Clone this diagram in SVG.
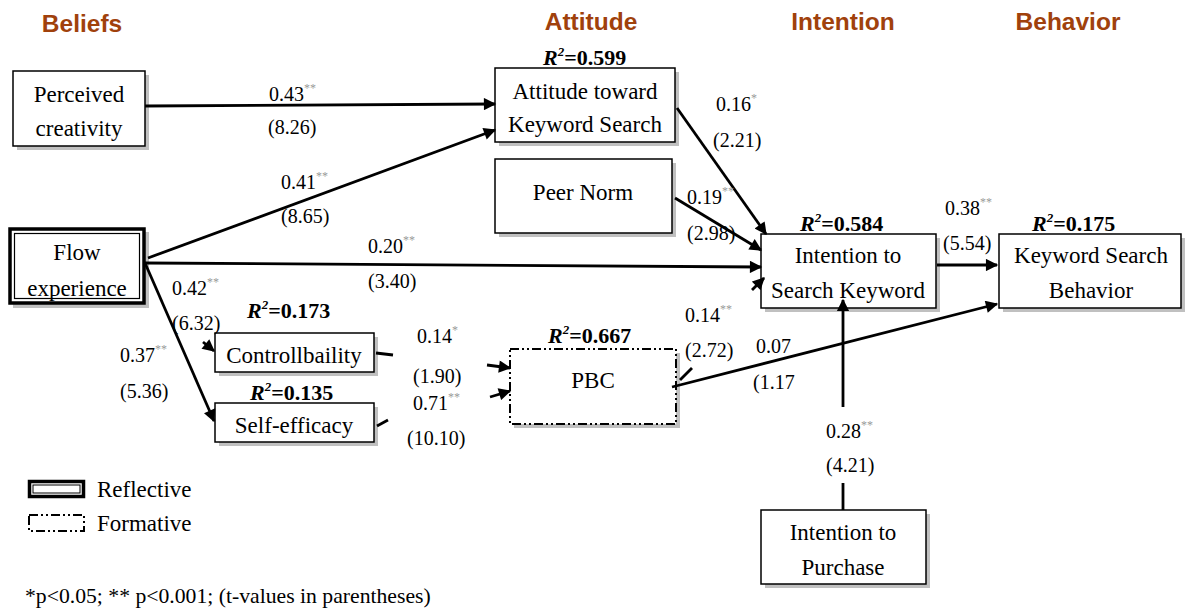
<svg xmlns="http://www.w3.org/2000/svg" width="1185" height="610" viewBox="0 0 1185 610">
<style>
.hd{font-family:"Liberation Sans",Arial,sans-serif;font-weight:bold;font-size:24.5px;fill:#a0410c;text-anchor:middle}
.bx{font-family:"Liberation Serif","Times New Roman",serif;font-size:23px;fill:#000;text-anchor:middle}
.lb{font-family:"Liberation Serif","Times New Roman",serif;font-size:20px;fill:#000}
.sp{font-size:12px;fill:#999}
.r2{font-family:"Liberation Serif","Times New Roman",serif;font-size:22px;font-weight:bold;fill:#000}
.box{fill:#fff;stroke:#000;stroke-width:1.5}
.sh{fill:#c0c0c0}
.fm{fill:#fff;stroke:#000;stroke-width:2;stroke-dasharray:9 3 2 3 2 3}
.ln{stroke:#000;stroke-width:2.8;fill:none}
.ar{stroke:#000;stroke-width:2.8;fill:none;marker-end:url(#ah)}
</style>
<defs>
<marker id="ah" viewBox="0 0 10 10" refX="9" refY="5" markerWidth="5" markerHeight="4.4" orient="auto" markerUnits="strokeWidth">
<path d="M0,0 L10,5 L0,10 z" fill="#000"/>
</marker>
</defs>
<rect width="1185" height="610" fill="#fff"/>

<g id="headers">
<text class="hd" x="82" y="32">Beliefs</text>
<text class="hd" x="591" y="30">Attitude</text>
<text class="hd" x="843" y="30">Intention</text>
<text class="hd" x="1068" y="30">Behavior</text>
</g>

<g id="perceived-creativity">
<rect class="sh" x="17" y="75" width="132" height="75"/>
<rect class="box" x="13" y="71" width="132" height="75"/>
<text class="bx" x="79" y="102">Perceived</text>
<text class="bx" x="79" y="136">creativity</text>
</g>

<g id="flow-experience">
<rect class="sh" x="13" y="232" width="136" height="76"/>
<rect x="10" y="229" width="134" height="74" fill="#fff" stroke="#000" stroke-width="3.5"/>
<rect x="14.5" y="233.5" width="125" height="65" fill="none" stroke="#000" stroke-width="1.2"/>
<text class="bx" x="77" y="260">Flow</text>
<text class="bx" x="77" y="296">experience</text>
</g>

<g id="attitude">
<rect class="sh" x="499" y="72" width="180" height="74"/>
<rect class="box" x="495" y="68" width="180" height="74"/>
<text class="bx" x="585" y="99">Attitude toward</text>
<text class="bx" x="585" y="132">Keyword Search</text>
<text class="r2" x="543" y="65"><tspan font-style="italic">R</tspan><tspan font-style="italic" font-size="13" dy="-9">2</tspan><tspan dy="9">=0.599</tspan></text>
</g>

<g id="peer-norm">
<rect class="sh" x="499" y="163" width="177" height="74"/>
<rect class="box" x="495" y="159" width="177" height="74"/>
<text class="bx" x="583" y="200">Peer Norm</text>
</g>

<g id="intention-search">
<rect class="sh" x="765" y="238" width="175" height="74"/>
<rect class="box" x="761" y="234" width="175" height="74"/>
<text class="bx" x="848" y="263">Intention to</text>
<text class="bx" x="848" y="298">Search Keyword</text>
<text class="r2" x="800" y="231"><tspan font-style="italic">R</tspan><tspan font-style="italic" font-size="13" dy="-9">2</tspan><tspan dy="9">=0.584</tspan></text>
</g>

<g id="keyword-behavior">
<rect class="sh" x="1003" y="238" width="182" height="74"/>
<rect class="box" x="999" y="234" width="182" height="74"/>
<text class="bx" x="1091" y="263">Keyword Search</text>
<text class="bx" x="1091" y="298">Behavior</text>
<text class="r2" x="1032" y="231"><tspan font-style="italic">R</tspan><tspan font-style="italic" font-size="13" dy="-9">2</tspan><tspan dy="9">=0.175</tspan></text>
</g>

<g id="controllability">
<rect class="sh" x="219" y="337" width="159" height="39"/>
<rect class="box" x="215" y="333" width="159" height="39"/>
<text class="bx" x="294" y="363">Controllbaility</text>
<text class="r2" x="247" y="318"><tspan font-style="italic">R</tspan><tspan font-style="italic" font-size="13" dy="-9">2</tspan><tspan dy="9">=0.173</tspan></text>
</g>

<g id="self-efficacy">
<rect class="sh" x="219" y="407" width="159" height="39"/>
<rect class="box" x="215" y="403" width="159" height="39"/>
<text class="bx" x="294" y="433">Self-efficacy</text>
<text class="r2" x="250" y="400"><tspan font-style="italic">R</tspan><tspan font-style="italic" font-size="13" dy="-9">2</tspan><tspan dy="9">=0.135</tspan></text>
</g>

<g id="pbc">
<rect class="sh" x="514" y="353" width="166" height="75"/>
<rect class="fm" x="510" y="349" width="166" height="75"/>
<text class="bx" x="593" y="388">PBC</text>
<text class="r2" x="548" y="343"><tspan font-style="italic">R</tspan><tspan font-style="italic" font-size="13" dy="-9">2</tspan><tspan dy="9">=0.667</tspan></text>
</g>

<g id="intention-purchase">
<rect class="sh" x="765" y="514" width="165" height="74"/>
<rect class="box" x="761" y="510" width="165" height="74"/>
<text class="bx" x="843" y="540">Intention to</text>
<text class="bx" x="843" y="575">Purchase</text>
</g>

<g id="connectors">
<line class="ar" x1="145" y1="106" x2="495" y2="104"/>
<line class="ar" x1="148" y1="258" x2="495" y2="130"/>
<line class="ar" x1="145" y1="263" x2="761" y2="267"/>
<line class="ar" x1="203" y1="342" x2="214" y2="351"/>
<line class="ar" x1="145" y1="263" x2="214" y2="421"/>
<line class="ln" x1="376" y1="353" x2="393" y2="355"/>
<line class="ar" x1="487" y1="365" x2="510" y2="368"/>
<line class="ln" x1="377" y1="426" x2="388" y2="420"/>
<line class="ar" x1="490" y1="397" x2="510" y2="391"/>
<line class="ln" x1="680" y1="380" x2="692" y2="368"/>
<line class="ar" x1="752" y1="290" x2="764" y2="278"/>
<line class="ar" x1="672" y1="387" x2="997" y2="304"/>
<line class="ar" x1="677" y1="108" x2="766" y2="234"/>
<line class="ar" x1="675" y1="198" x2="761" y2="250"/>
<line class="ar" x1="937" y1="265" x2="997" y2="265"/>
<line class="ln" x1="843" y1="510" x2="843" y2="483"/>
<line class="ar" x1="843" y1="407" x2="843" y2="300"/>
</g>

<g id="labels">
<text class="lb" x="269" y="101">0.43<tspan class="sp" dy="-9">**</tspan></text>
<text class="lb" x="268" y="134">(8.26)</text>
<text class="lb" x="281" y="189">0.41<tspan class="sp" dy="-9">**</tspan></text>
<text class="lb" x="281" y="223">(8.65)</text>
<text class="lb" x="368" y="253">0.20<tspan class="sp" dy="-9">**</tspan></text>
<text class="lb" x="368" y="288">(3.40)</text>
<text class="lb" x="172" y="295">0.42<tspan class="sp" dy="-9">**</tspan></text>
<text class="lb" x="172" y="330">(6.32)</text>
<text class="lb" x="120" y="362">0.37<tspan class="sp" dy="-9">**</tspan></text>
<text class="lb" x="120" y="398">(5.36)</text>
<text class="lb" x="417" y="343">0.14<tspan class="sp" dy="-9">*</tspan></text>
<text class="lb" x="413" y="383">(1.90)</text>
<text class="lb" x="413" y="410">0.71<tspan class="sp" dy="-9">**</tspan></text>
<text class="lb" x="407" y="445">(10.10)</text>
<text class="lb" x="716" y="111">0.16<tspan class="sp" dy="-9">*</tspan></text>
<text class="lb" x="713" y="147">(2.21)</text>
<text class="lb" x="687" y="204">0.19<tspan class="sp" dy="-9">**</tspan></text>
<text class="lb" x="687" y="240">(2.98)</text>
<text class="lb" x="945" y="215">0.38<tspan class="sp" dy="-9">**</tspan></text>
<text class="lb" x="943" y="250">(5.54)</text>
<text class="lb" x="685" y="322">0.14<tspan class="sp" dy="-9">**</tspan></text>
<text class="lb" x="685" y="357">(2.72)</text>
<text class="lb" x="756" y="353">0.07</text>
<text class="lb" x="753" y="389">(1.17</text>
<text class="lb" x="826" y="438">0.28<tspan class="sp" dy="-9">**</tspan></text>
<text class="lb" x="826" y="472">(4.21)</text>
</g>

<g id="legend">
<rect x="29.5" y="481.5" width="54" height="15" fill="#fff" stroke="#000" stroke-width="3.5"/>
<rect x="33" y="485" width="47" height="8" fill="none" stroke="#000" stroke-width="1"/>
<text class="bx" x="97" y="497" style="text-anchor:start">Reflective</text>
<rect x="29" y="515" width="55" height="16" fill="none" stroke="#000" stroke-width="2" stroke-dasharray="9 3 2 3 2 3"/>
<text class="bx" x="97" y="531" style="text-anchor:start">Formative</text>
<text class="lb" x="25" y="603" style="font-size:21.7px">*p&lt;0.05; ** p&lt;0.001; (t-values in parentheses)</text>
</g>
</svg>
